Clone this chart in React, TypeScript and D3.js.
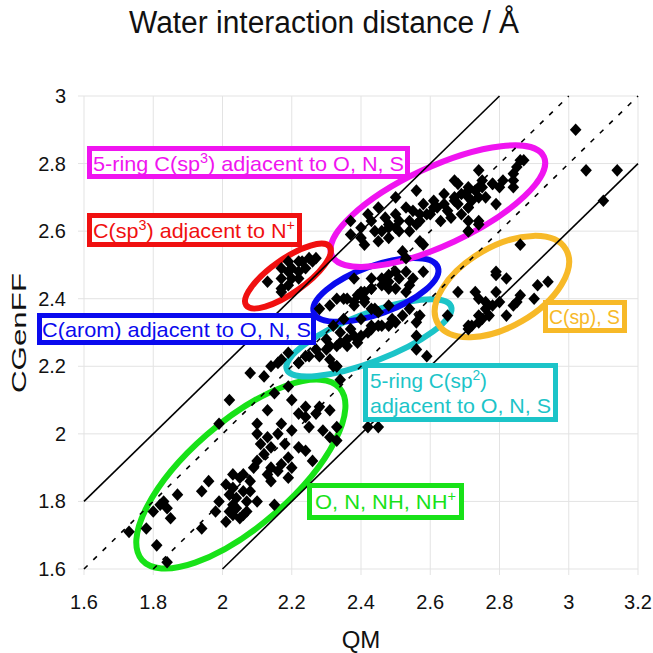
import React from "react";
import * as d3 from "d3";

// ---- data (QM, CGenFF) water interaction distances, Å ----
const xTicks = [1.6, 1.8, 2.0, 2.2, 2.4, 2.6, 2.8, 3.0, 3.2];
const yTicks = [1.6, 1.8, 2.0, 2.2, 2.4, 2.6, 2.8, 3.0];

const groupONNH: [number, number][] = [
  [2.16,2.21],[2.22,2.21],[2.33,2.20],[2.08,2.18],[2.12,2.17],[2.34,2.16],[2.19,2.14],[2.15,2.12],
  [2.20,2.10],[2.02,2.10],[2.24,2.08],[2.28,2.08],[2.31,2.07],[2.13,2.07],[2.22,2.06],[2.27,2.06],
  [2.24,2.05],[1.99,2.03],[2.10,2.03],[2.17,2.03],[2.25,2.02],[2.29,2.01],[2.33,2.02],[2.33,1.98],
  [2.31,1.99],[2.20,2.01],[2.16,2.00],[2.13,1.99],[2.10,2.00],[2.11,1.97],[2.14,1.96],[2.18,1.97],
  [2.22,1.96],[2.24,1.95],[2.12,1.94],[2.10,1.92],[2.19,1.93],[2.17,1.91],[2.26,1.92],[2.09,1.90],
  [2.14,1.90],[2.20,1.90],[2.06,1.88],[2.03,1.88],[2.16,1.89],[2.13,1.88],[2.19,1.87],[2.05,1.87],
  [2.08,1.86],[2.01,1.85],[1.96,1.86],[2.14,1.86],[1.94,1.83],[2.03,1.84],[2.06,1.83],[2.02,1.82],
  [2.04,1.81],[2.08,1.83],[1.99,1.80],[2.07,1.80],[2.03,1.79],[2.15,1.79],[2.10,1.80],[2.04,1.78],
  [2.02,1.77],[2.05,1.75],[2.07,1.77],[2.01,1.74],[1.98,1.77],[1.94,1.72],[1.87,1.82],[1.83,1.80],
  [1.82,1.79],[1.84,1.78],[1.80,1.77],[1.85,1.75],[1.78,1.72],[1.73,1.71],[1.81,1.67],[1.84,1.62],
  [2.06,1.76],[2.03,1.76],
];

const groupC5sp2: [number, number][] = [
  [2.22,2.21],[2.25,2.23],[2.28,2.23],[2.27,2.25],[2.30,2.25],[2.31,2.26],[2.33,2.26],[2.34,2.27],
  [2.36,2.28],[2.38,2.29],[2.40,2.29],[2.42,2.30],[2.43,2.31],[2.45,2.32],[2.46,2.32],[2.48,2.32],
  [2.50,2.33],[2.36,2.26],[2.33,2.20],[2.31,2.22],[2.39,2.27],[2.38,2.38],[2.41,2.39],[2.43,2.37],
  [2.32,2.32],[2.35,2.34],[2.37,2.31],[2.34,2.30],[2.30,2.28],[2.24,2.23],[2.32,2.20],[2.40,2.34],
  [2.43,2.32],[2.45,2.36],[2.48,2.38],[2.49,2.34],[2.56,2.29],[2.56,2.25],[2.59,2.23],[2.65,2.35],
  [2.52,2.35],[2.54,2.37],[2.17,2.22],[2.14,2.20],[2.19,2.24],[2.57,2.35],[2.56,2.33],
];

const groupArom: [number, number][] = [
  [2.38,2.46],[2.43,2.46],[2.46,2.46],[2.48,2.45],[2.51,2.46],[2.55,2.46],[2.58,2.48],[2.33,2.40],
  [2.36,2.40],[2.40,2.42],[2.43,2.43],[2.50,2.43],[2.53,2.42],[2.44,2.37],[2.35,2.40],[2.39,2.41],
  [2.41,2.42],[2.43,2.43],[2.46,2.44],[2.41,2.40],[2.38,2.39],[2.48,2.47],[2.50,2.48],[2.53,2.48],
  [2.31,2.38],[2.28,2.37],[2.48,2.43],[2.54,2.44],
];

const groupC5sp3: [number, number][] = [
  [2.56,2.72],[2.50,2.70],[2.53,2.67],[2.45,2.67],[2.42,2.65],[2.37,2.63],[2.40,2.61],[2.37,2.59],
  [2.40,2.58],[2.41,2.56],[2.46,2.60],[2.45,2.57],[2.48,2.62],[2.51,2.63],[2.54,2.63],[2.57,2.65],
  [2.60,2.65],[2.48,2.58],[2.51,2.60],[2.54,2.60],[2.57,2.57],[2.52,2.54],[2.53,2.52],[2.48,2.61],
  [2.62,2.67],[2.64,2.68],[2.67,2.69],[2.68,2.74],[2.71,2.72],[2.74,2.73],[2.75,2.75],[2.78,2.74],
  [2.81,2.75],[2.84,2.77],[2.85,2.79],[2.86,2.81],[2.87,2.81],[2.74,2.78],[2.80,2.73],[2.72,2.69],
  [2.71,2.67],[2.69,2.65],[2.66,2.64],[2.63,2.63],[2.65,2.66],[2.68,2.68],[2.71,2.70],[2.76,2.70],
  [2.79,2.68],[2.74,2.63],[2.71,2.60],[2.58,2.56],[2.84,2.75],[2.78,2.74],[2.84,2.73],[2.75,2.73],
  [2.73,2.72],[2.67,2.75],[2.71,2.73],[2.69,2.71],[2.67,2.70],[2.61,2.67],[2.59,2.65],[2.57,2.63],
  [2.74,2.70],[2.71,2.67],[2.71,2.63],[2.74,2.62],[2.71,2.60],[2.43,2.63],[2.47,2.64],[2.50,2.65],
  [2.55,2.66],[2.58,2.68],[2.61,2.69],[2.64,2.71],[2.44,2.60],[2.50,2.61],[2.56,2.62],
];

const groupNplus: [number, number][] = [
  [2.13,2.45],[2.17,2.49],[2.19,2.51],[2.22,2.51],[2.23,2.51],[2.25,2.52],[2.27,2.52],[2.22,2.48],
  [2.20,2.46],[2.17,2.46],[2.19,2.44],[2.17,2.43],[2.22,2.46],[2.19,2.48],[2.24,2.49],[2.26,2.51],
  [2.17,2.42],[2.20,2.49],
];

const groupSpS: [number, number][] = [
  [2.86,2.56],[2.79,2.47],[2.82,2.46],[2.91,2.44],[2.94,2.45],[2.68,2.42],[2.73,2.42],[2.74,2.40],
  [2.79,2.42],[2.76,2.39],[2.78,2.38],[2.80,2.39],[2.86,2.41],[2.90,2.40],[2.85,2.39],[2.84,2.38],
  [2.82,2.35],[2.76,2.37],[2.77,2.35],[2.75,2.34],[2.74,2.33],[2.72,2.32],[2.71,2.31],[2.74,2.35],
  [2.71,2.32],[2.79,2.48],
];

const groupOther: [number, number][] = [
  [3.02,2.90],[3.05,2.78],[3.14,2.78],[3.10,2.69],[2.42,2.02],[2.45,2.02],
];

// reference lines: y = x + offset
const lineOffsets = [0.2, 0, -0.2, -0.4];
const lineDashed = [false, true, true, false];

// ---- layout ----
const W = 653, H = 653;
const x = d3.scaleLinear().domain([1.6, 3.2]).range([84, 638]);
const y = d3.scaleLinear().domain([1.6, 3.0]).range([569, 96]);

const ellipses = [
  { cx: 2.053, cy: 1.881, rx: 131, ry: 52, rot: -41, color: "#18e218" },
  { cx: 2.423, cy: 2.284, rx: 88, ry: 24, rot: -21, color: "#1cc4c8" },
  { cx: 2.443, cy: 2.426, rx: 66, ry: 24, rot: -20, color: "#0a0aee" },
  { cx: 2.622, cy: 2.674, rx: 117, ry: 39, rot: -25, color: "#f014f0" },
  { cx: 2.189, cy: 2.467, rx: 51, ry: 17, rot: -35, color: "#f01010" },
  { cx: 2.807, cy: 2.436, rx: 74, ry: 40, rot: -30, color: "#f7b928" },
];

const font = "'Liberation Sans', Arial, Helvetica, sans-serif";

function Sup({ t }: { t: string }) {
  return <tspan baselineShift="super" fontSize={14}>{t}</tspan>;
}

export default function App() {
  const diamond = "M0,-6.3L5.8,0L0,6.3L-5.8,0Z";
  const allGroups = [groupONNH, groupC5sp2, groupArom, groupC5sp3, groupNplus, groupSpS, groupOther];
  const [x0, x1] = x.domain();
  const [y0, y1] = y.domain();
  const fit = "spacingAndGlyphs";

  return (
    <svg width={W} height={H} style={{ position: "absolute", left: 0, top: 0, background: "#fff" }} fontFamily={font}>
      {/* grid */}
      {xTicks.map((t) => (
        <line key={"gx" + t} x1={x(t)} x2={x(t)} y1={y(y1)} y2={y(y0) + 6} stroke="#e3e3e3" strokeWidth={1} />
      ))}
      {yTicks.map((t) => (
        <line key={"gy" + t} x1={x(x0) - 6} x2={x(x1)} y1={y(t)} y2={y(t)} stroke="#e3e3e3" strokeWidth={1} />
      ))}
      {/* tick labels */}
      {xTicks.map((t) => (
        <text key={"tx" + t} x={x(t)} y={609} textAnchor="middle" fontSize={20} fill="#111">
          {String(+t.toFixed(1))}
        </text>
      ))}
      {yTicks.map((t) => (
        <text key={"ty" + t} x={66} y={y(t) + 7} textAnchor="end" fontSize={20} fill="#111">
          {String(+t.toFixed(1))}
        </text>
      ))}
      {/* ellipses */}
      {ellipses.map((e, i) => (
        <ellipse key={"e" + i} cx={0} cy={0} rx={e.rx} ry={e.ry} fill="none" stroke={e.color} strokeWidth={6}
          transform={`translate(${x(e.cx)},${y(e.cy)}) rotate(${e.rot})`} />
      ))}
      {/* reference lines */}
      {lineOffsets.map((o, i) => {
        const xs = Math.max(x0, y0 - o);
        const xe = Math.min(x1, y1 - o);
        return (
          <line key={"l" + i} x1={x(xs)} y1={y(xs + o)} x2={x(xe)} y2={y(xe + o)} stroke="#000"
            strokeWidth={1.6} strokeDasharray={lineDashed[i] ? "5,8" : undefined} />
        );
      })}
      {/* points */}
      {allGroups.map((g, gi) =>
        g.map((p, pi) => (
          <path key={`p${gi}-${pi}`} d={diamond} transform={`translate(${x(p[0])},${y(p[1])})`} fill="#000" />
        ))
      )}
      {/* label boxes */}
      <g fontSize={21}>
        <rect x={89.5} y={148.5} width={318} height={28} fill="#fff" stroke="#f014f0" strokeWidth={5} />
        <text x={93} y={171} fill="#f014f0" textLength={311} lengthAdjust={fit}>5-ring C(sp<Sup t="3" />) adjacent to O, N, S</text>

        <rect x={89.5} y={215.5} width={210} height={29} fill="#fff" stroke="#f01010" strokeWidth={5} />
        <text x={93} y={238} fill="#f01010" textLength={202} lengthAdjust={fit}>C(sp<Sup t="3" />) adjacent to N<Sup t="+" /></text>

        <rect x={39.5} y={315.5} width={274} height={27} fill="#fff" stroke="#0a0aee" strokeWidth={5} />
        <text x={42} y={337} fill="#0a0aee" textLength={269} lengthAdjust={fit}>C(arom) adjacent to O, N, S</text>

        <rect x={365.5} y={365.5} width={190} height={54} fill="#fff" stroke="#1cc4c8" strokeWidth={5} />
        <text x={370} y={388} fill="#1cc4c8" textLength={117} lengthAdjust={fit}>5-ring C(sp<Sup t="2" />)</text>
        <text x={370} y={413} fill="#1cc4c8" textLength={181} lengthAdjust={fit}>adjacent to O, N, S</text>

        <rect x={545.5} y={302.5} width={79} height={28} fill="#fff" stroke="#f7b928" strokeWidth={5} />
        <text x={549} y={324} fill="#f7b928" textLength={71} lengthAdjust={fit}>C(sp), S</text>

        <rect x={309.5} y={485.5} width={152} height={32} fill="#fff" stroke="#18e218" strokeWidth={5} />
        <text x={315} y={509} fill="#18e218" textLength={141} lengthAdjust={fit}>O, N, NH, NH<Sup t="+" /></text>
      </g>
      {/* titles */}
      <text x={324} y={33} textAnchor="middle" fontSize={31} fill="#111" textLength={390} lengthAdjust={fit}>
        Water interaction distance / Å
      </text>
      <text x={361} y={648} textAnchor="middle" fontSize={24} fill="#111">QM</text>
      <text transform="translate(26,333) rotate(-90)" textAnchor="middle" fontSize={21} fill="#111"
        textLength={120} lengthAdjust={fit}>CGenFF</text>
    </svg>
  );
}
